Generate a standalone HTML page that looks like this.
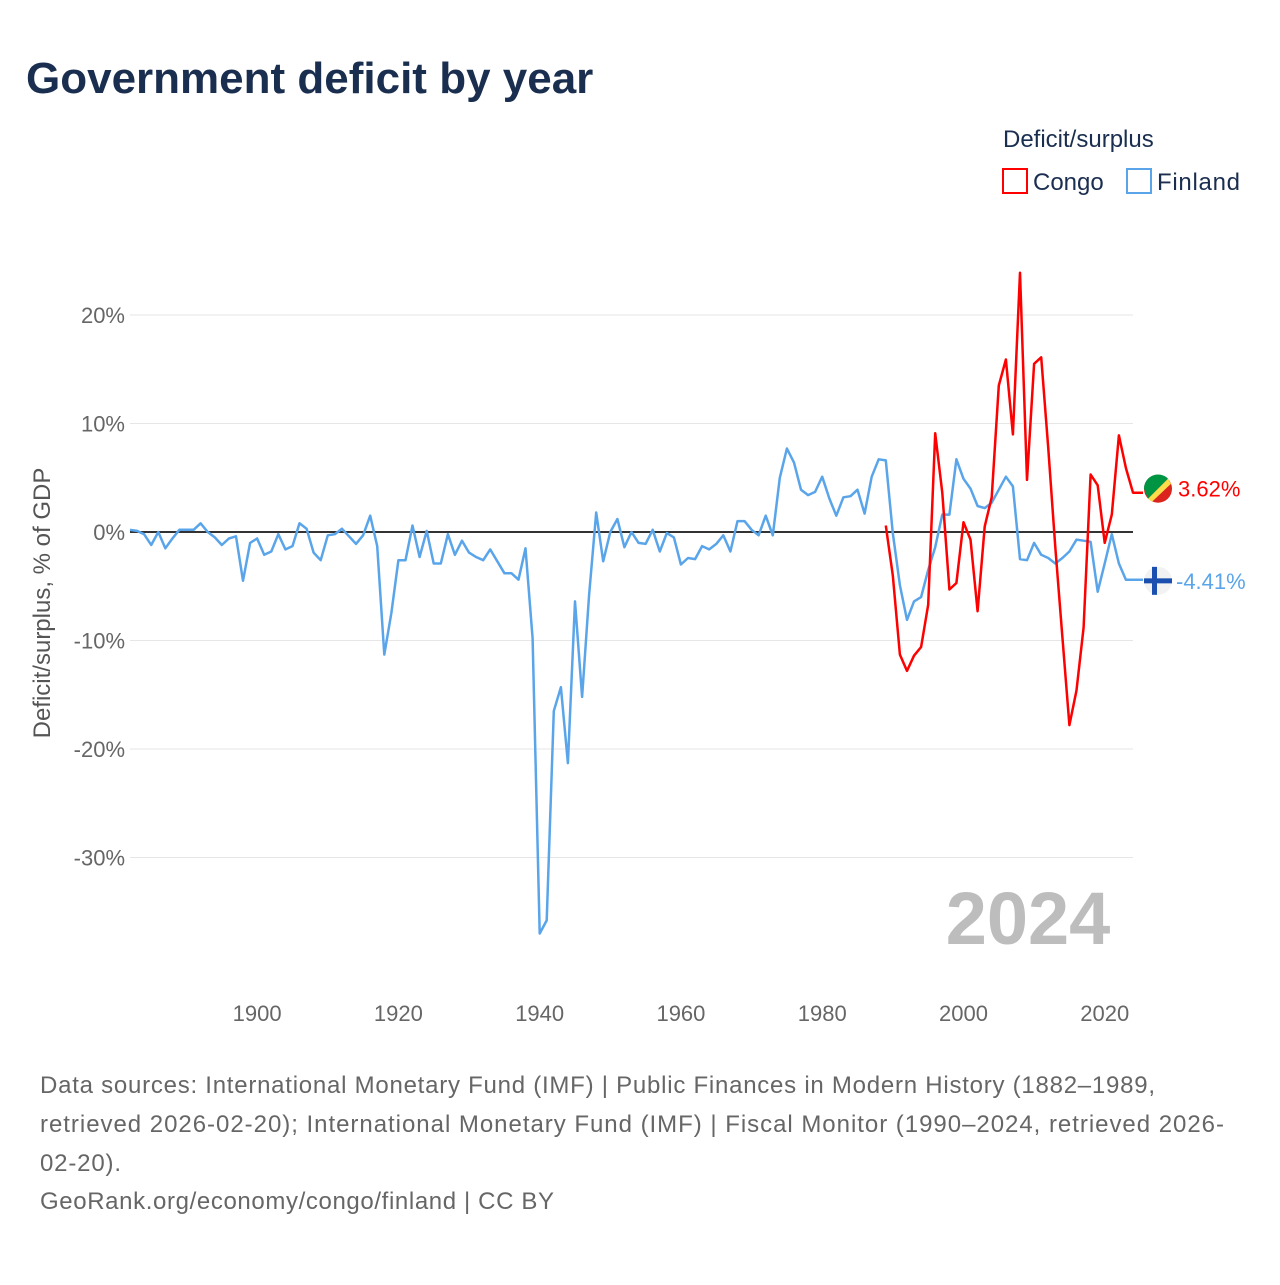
<!DOCTYPE html>
<html><head><meta charset="utf-8"><style>
body{margin:0;background:#fff;width:1280px;height:1280px;overflow:hidden;font-family:"Liberation Sans",sans-serif}
</style></head><body>
<svg width="1280" height="1280" viewBox="0 0 1280 1280" style="font-family:'Liberation Sans',sans-serif">
<text x="26" y="93" font-size="44" font-weight="bold" fill="#1a2e4f">Government deficit by year</text>
<text x="1003" y="147" font-size="24" fill="#1a2e4f">Deficit/surplus</text>
<g><rect x="1003" y="169" width="24" height="24" fill="none" stroke="#f00" stroke-width="2"/><text x="1033" y="190" font-size="24" fill="#1a2e4f">Congo</text></g>
<g><rect x="1127" y="169" width="24" height="24" fill="none" stroke="#5aa5ea" stroke-width="2"/><text x="1157" y="190" font-size="24" fill="#1a2e4f" textLength="83">Finland</text></g>
<g id="grid"></g><g id="axes"></g><g id="series"></g>
<text x="1028" y="944" font-size="74" font-weight="bold" fill="#bdbdbd" text-anchor="middle">2024</text>
<text transform="translate(50,603) rotate(-90)" font-size="24" fill="#555" text-anchor="middle">Deficit/surplus, % of GDP</text>
<g font-size="24" fill="#666">
<text x="40" y="1093" textLength="1115">Data sources: International Monetary Fund (IMF) | Public Finances in Modern History (1882–1989,</text>
<text x="40" y="1132" textLength="1184">retrieved 2026-02-20); International Monetary Fund (IMF) | Fiscal Monitor (1990–2024, retrieved 2026-</text>
<text x="40" y="1171" textLength="81">02-20).</text>
<text x="40" y="1209" textLength="514">GeoRank.org/economy/congo/finland | CC BY</text>
</g>
</svg>
<script>
const finlandStart=1882;
const finlandValues=[0.2,0.1,-0.2,-1.2,0,-1.5,-0.6,0.2,0.2,0.2,0.8,0,-0.5,-1.2,-0.6,-0.4,-4.5,-1.0,-0.6,-2.1,-1.8,-0.2,-1.6,-1.3,0.8,0.3,-1.9,-2.6,-0.3,-0.2,0.3,-0.4,-1.1,-0.3,1.5,-1.3,-11.3,-7.5,-2.6,-2.6,0.6,-2.3,0.1,-2.9,-2.9,-0.2,-2.1,-0.8,-1.9,-2.3,-2.6,-1.6,-2.7,-3.8,-3.8,-4.4,-1.5,-9.8,
-37.0,-35.8,-16.5,-14.3,-21.3,-6.4,-15.2,-5.8,1.8,
-2.7,0,1.2,-1.4,0,-1.0,-1.1,0.2,-1.8,-0.1,-0.5,-3.0,-2.4,-2.5,-1.3,-1.6,-1.1,-0.3,-1.8,1.0,1.0,0.2,-0.3,1.5,-0.3,5.0,7.7,6.4,3.9,3.4,3.7,5.1,3.1,1.5,3.2,3.3,3.9,1.7,5.1,6.7,6.6,
-0.1,-4.9,-8.1,-6.4,-6.0,-3.5,-1.4,1.6,1.6,6.7,4.9,4.0,2.4,2.2,2.7,3.9,5.1,4.2,-2.5,-2.6,-1.0,-2.1,-2.4,-2.9,-2.4,-1.8,-0.7,-0.8,-0.9,-5.5,-2.9,-0.2,-2.9,-4.41];
const congoStart=1989;
const congoValues=[0.6,-4.0,-11.3,-12.8,-11.4,-10.6,-6.7,9.1,3.6,-5.3,-4.7,0.9,-0.7,-7.3,0.5,3.2,13.5,15.9,9.0,23.9,4.8,15.5,16.1,7.8,-1.4,-9.7,-17.8,-14.6,-8.8,5.3,4.3,-1.0,1.6,8.9,5.9,3.62];
const yTicks=[20,10,0,-10,-20,-30];
const yTickLabels=["20%","10%","0%","-10%","-20%","-30%"];
const xTicks=[1900,1920,1940,1960,1980,2000,2020];
const NS="http://www.w3.org/2000/svg";
const X0=130,X1=1133,Y0=1882,Y1=2024;
function xs(yr){return X0+(yr-Y0)*(X1-X0)/(Y1-Y0);}
function ys(v){return 532-v*10.85;}
function mk(tag,attrs,parent){const e=document.createElementNS(NS,tag);for(const k in attrs)e.setAttribute(k,attrs[k]);parent.appendChild(e);return e;}
const grid=document.getElementById('grid'),axes=document.getElementById('axes'),series=document.getElementById('series');
yTicks.forEach((t,i)=>{
  const l=mk('line',{x1:X0,x2:X1,y1:ys(t),y2:ys(t),stroke:t===0?'#333':'#e6e6e6','stroke-width':t===0?2:1},grid);
  
  
  const tx=mk('text',{x:125,y:ys(t)+8,'font-size':22,fill:'#666','text-anchor':'end'},axes);
  tx.textContent=yTickLabels[i];
  
  
});
xTicks.forEach(t=>{
  const tx=mk('text',{x:xs(t),y:1021,'font-size':22,fill:'#666','text-anchor':'middle'},axes);
  tx.textContent=t;
  
  
});
function line(vals,start,color,name){
  const pts=vals.map((v,i)=>xs(start+i).toFixed(1)+','+ys(v).toFixed(1));
  const last=vals[vals.length-1];
  pts.push((xs(Y1)+10).toFixed(1)+','+ys(last).toFixed(1));
  const p=mk('polyline',{points:pts.join(' '),fill:'none',stroke:color,'stroke-width':2.5,'stroke-linejoin':'round'},series);
  
  
}
line(finlandValues,finlandStart,'#5aa5ea','finland-line');
line(congoValues,congoStart,'#ff0000','congo-line');
const cv=congoValues[congoValues.length-1],fv=finlandValues[finlandValues.length-1];
const cy=ys(cv)-4,fy=ys(fv)+1;
const cg=mk('g',{},series);


mk('circle',{cx:1158,cy:cy,r:14,fill:'#dc241f'},cg);
mk('path',{d:`M1144,${cy} A14,14 0 0 1 1168,${cy-10} L1148,${cy+10} Z`,fill:'#009543'},cg);
mk('path',{d:`M1148,${cy+10} L1168,${cy-10} L1171,${cy-5} L1152,${cy+13} Z`,fill:'#fbde4a'},cg);
const ct=mk('text',{x:1178,y:cy+8,'font-size':22,fill:'#f00'},series);
ct.textContent=cv.toFixed(2)+'%';


const fg=mk('g',{},series);


mk('circle',{cx:1158,cy:fy,r:14,fill:'#f2f2f2'},fg);
mk('rect',{x:1144,y:fy-2.5,width:28,height:5,fill:'#1a4fb0'},fg);
mk('rect',{x:1152,y:fy-14,width:5,height:28,fill:'#1a4fb0'},fg);
const ft=mk('text',{x:1176,y:fy+8,'font-size':22,fill:'#5aa5ea'},series);
ft.textContent=fv.toFixed(2)+'%';


</script>
</body></html>
